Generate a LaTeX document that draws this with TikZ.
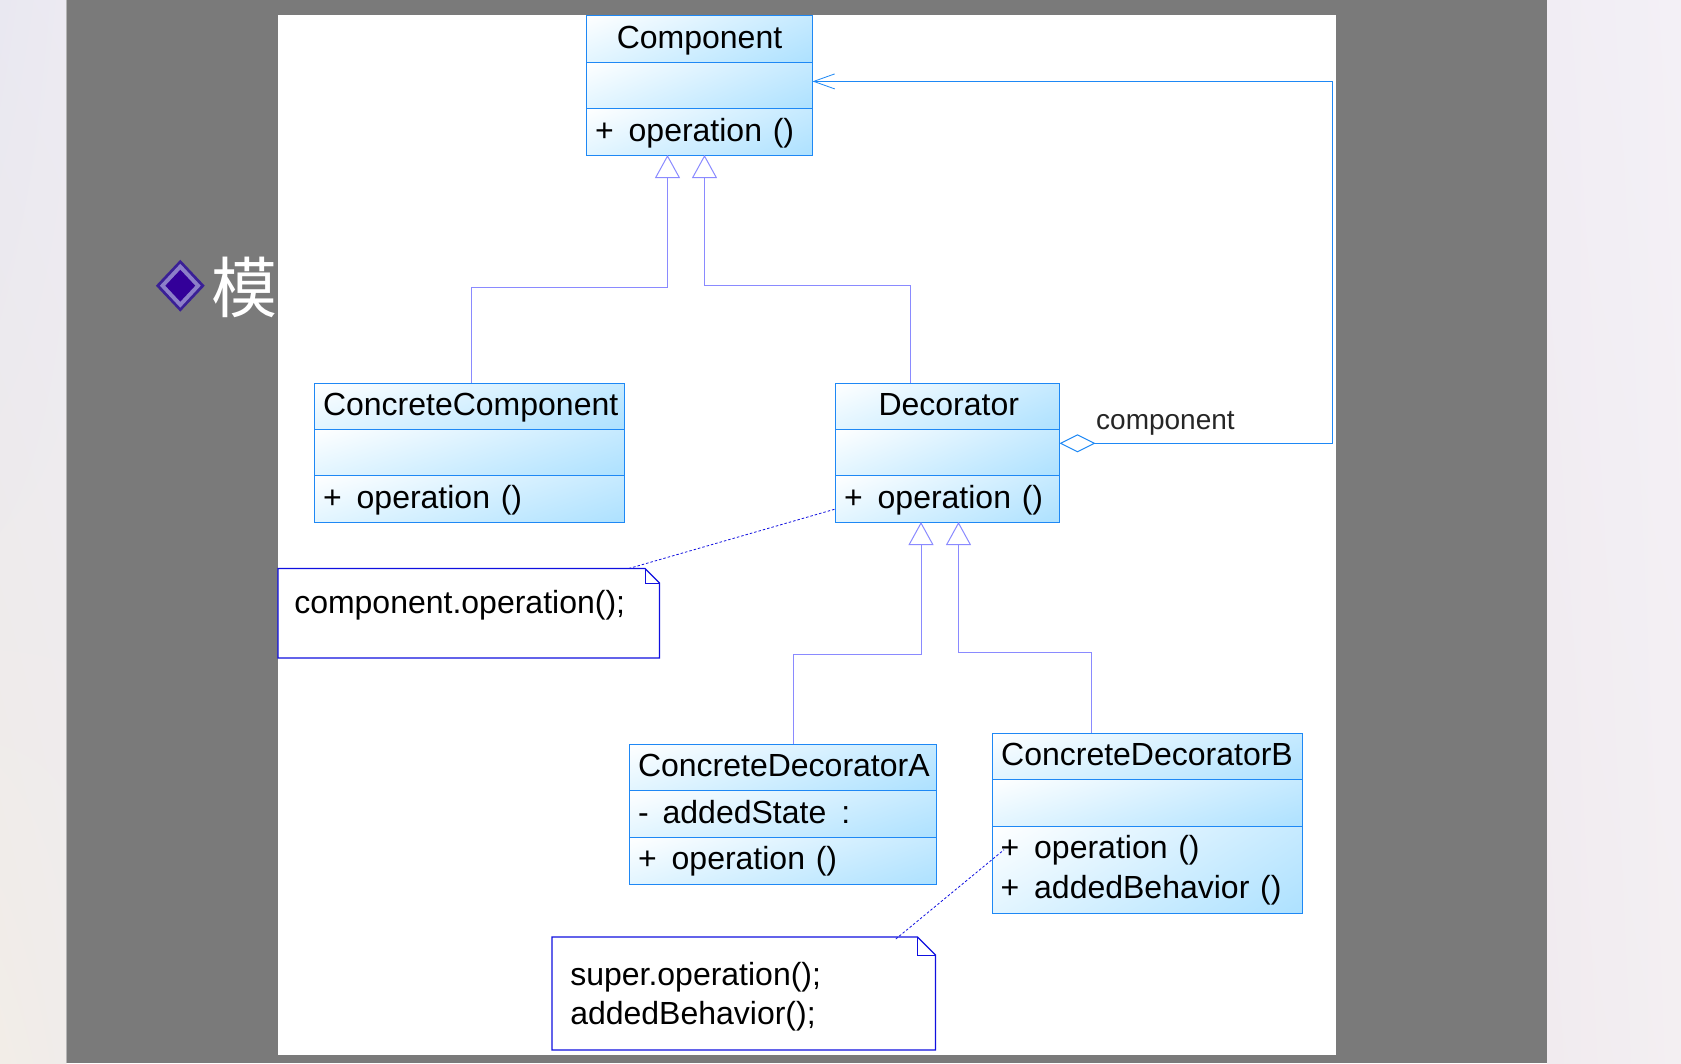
\documentclass[tikz,border=0pt]{standalone}
\usepackage{fontspec}
\setmainfont{Liberation Sans}
\newfontfamily\cjkfont{Noto Sans CJK SC}
\usetikzlibrary{arrows.meta,calc,shapes.geometric,shadings}
\definecolor{boxblue}{HTML}{1E88F5}
\definecolor{genblue}{HTML}{8A8AFF}
\definecolor{noteblue}{HTML}{1010E0}
\definecolor{shadeblue}{HTML}{ADE1FF}
\definecolor{shadeUR}{HTML}{C6EAFF}
\definecolor{shadeLL}{HTML}{E2F5FF}
\definecolor{slate}{HTML}{7A7A7A}
\definecolor{paleA}{HTML}{E9E8F1}
\definecolor{paleB}{HTML}{ECEAF2}
\definecolor{paleC}{HTML}{F2EDE7}
\definecolor{paleD}{HTML}{F0ECEA}
\definecolor{paleE}{HTML}{F1EDF4}
\definecolor{paleF}{HTML}{F3F0F6}
\definecolor{paleG}{HTML}{F1EBEF}
\definecolor{paleH}{HTML}{F3EFF2}
\definecolor{edgegray}{HTML}{B4B4B4}
\definecolor{bulletA}{HTML}{3A1F96}
\definecolor{bulletB}{HTML}{8C7FC8}
\definecolor{bulletC}{HTML}{330099}
\tikzset{
  x=1pt,y=-1pt,
  comp/.style 2 args={draw=boxblue,line width=1pt,inner xsep=8.5pt,inner ysep=0pt,outer sep=0pt,
    anchor=north west,minimum width=#1pt,minimum height=#2pt,text width=#1pt-17pt,
    font=\fontsize{32}{40}\selectfont,text=black,shade,shading=bilinear interpolation,
    upper left=white,upper right=shadeUR,lower left=shadeLL,lower right=shadeblue},
  fixline/.style={text height=26pt,text depth=8pt},
  ctitle/.style 2 args={comp={#1}{#2},fixline,align=center},
  cbody/.style 2 args={comp={#1}{#2},fixline,align=left},
  cmulti/.style 2 args={comp={#1}{#2},align=left},
  lowered/.style={text height=27pt,text depth=7pt},
  gen/.style={draw=genblue,line width=1pt,-{Triangle[open,length=23pt,width=25pt,fill=white]}},
  assoc/.style={draw=boxblue,line width=1pt,
    {Diamond[open,length=36pt,width=18pt,fill=white]}-{Straight Barb[length=21pt,width=15pt,line width=0.8pt]}},
  anchorline/.style={draw=noteblue,line width=0.8pt,dash pattern=on 2.5pt off 2pt},
  notebody/.style={inner sep=0pt,outer sep=0pt,anchor=north west,align=left,
    font=\fontsize{32}{39}\selectfont,text=black},
  noteline/.style={draw=noteblue,line width=1.2pt,line join=miter},
  foldline/.style={draw=noteblue,line width=1pt},
}
\newcommand{\plusgap}{+\hspace{15pt}}
\begin{document}
\begin{tikzpicture}
\useasboundingbox (0,0) rectangle (1681,1063);
% page backgrounds
\shade[shading=bilinear interpolation,upper left=paleA,upper right=paleB,lower left=paleC,lower right=paleD] (0,0) rectangle (66.5,1063);
\shade[shading=bilinear interpolation,upper left=paleE,upper right=paleF,lower left=paleG,lower right=paleH] (1547,0) rectangle (1681,1063);
\fill[slate] (66.5,0) rectangle (1547,1063);
\draw[edgegray,line width=1pt] (66.5,0) -- (66.5,1063);
% bullet and clipped heading
\node[diamond,fill=bulletA,draw=none,minimum width=49pt,minimum height=52pt,inner sep=0pt] (bulletouter) at (180.3,285.7) {};
\node[diamond,fill=bulletB,draw=none,minimum width=41pt,minimum height=44pt,inner sep=0pt] (bulletmid) at (180.3,285.7) {};
\node[diamond,fill=bulletC,draw=none,minimum width=30pt,minimum height=32pt,inner sep=0pt] (bulletinner) at (180.3,285.7) {};
\node[text=white,font=\cjkfont\fontsize{66}{66}\selectfont,inner sep=0pt,anchor=center] (heading) at (244.5,287) {模};
\fill[white] (278,15) rectangle (1336,1055);
% Component
\node[ctitle={226}{47},lowered] (compT) at (586.5,15) {Component};
\node[cbody={226}{46}] (compA) at (586.5,62) {};
\node[cbody={226}{47},lowered] (compO) at (586.5,108) {\plusgap operation ()};
% ConcreteComponent
\node[ctitle={310}{46}] (ccT) at (314.5,383) {ConcreteComponent};
\node[cbody={310}{46}] (ccA) at (314.5,429) {};
\node[cbody={310}{47},lowered] (ccO) at (314.5,475) {\plusgap operation ()};
% Decorator
\node[ctitle={224}{46}] (decT) at (835.5,383) {\hspace{2.5pt}Decorator};
\node[cbody={224}{46}] (decA) at (835.5,429) {};
\node[cbody={224}{47},lowered] (decO) at (835.5,475) {\plusgap operation ()};
% ConcreteDecoratorA
\node[ctitle={307}{46}] (daT) at (629.5,744) {ConcreteDecoratorA};
\node[cbody={307}{47},lowered] (daA) at (629.5,790) {-\hspace{14pt}addedState\hspace{15pt}:};
\node[cbody={307}{47.5}] (daO) at (629.5,837) {\plusgap operation ()};
% ConcreteDecoratorB
\node[ctitle={310}{46.5}] (dbT) at (992,733) {ConcreteDecoratorB};
\node[cbody={310}{47}] (dbA) at (992,779.5) {};
\node[cmulti={310}{86.5}] (dbO) at (992,826.5) {\plusgap operation ()\\\plusgap addedBehavior ()};
% inheritance
\draw[gen] ([xshift=1.5pt]ccT.north) -- ++(0,-96) -| ([xshift=-32pt]compO.south);
\draw[gen] ([xshift=-37pt]decT.north) -- ++(0,-97.5) -| ([xshift=5pt]compO.south);
\draw[gen] ([xshift=10pt]daT.north) -- ++(0,-90) -| ([xshift=-26.5pt]decO.south);
\draw[gen] ([xshift=-55.5pt]dbT.north) -- ++(0,-81) -| ([xshift=11pt]decO.south);
% aggregation
\draw[assoc] ([yshift=8.7pt]decA.east) -- ++(273,0) |- ([yshift=3.6pt]compA.east);
\node[anchor=base west,inner sep=0pt,font=\fontsize{28}{28}\selectfont,text=black!85] (rolelabel) at (1096,429.5) {component};
% notes
\node[notebody,minimum width=381.5pt,minimum height=89.5pt,text width=349pt,inner xsep=16pt,text height=23pt,text depth=23pt] (noteA) at (278,568.5) {component.operation();};
\node[notebody,minimum width=383.5pt,minimum height=113pt,text width=347pt,inner xsep=18pt] (noteB) at (552,937) {\rule{0pt}{29pt}super.operation();\\addedBehavior();};
\path[noteline] (noteA.north west) -- ([xshift=-14.5pt]noteA.north east) -- ([yshift=-14.5pt]noteA.north east) -- (noteA.south east) -- (noteA.south west) -- cycle;
\path[foldline] ([xshift=-14.5pt]noteA.north east) -- ([xshift=-14.5pt,yshift=-14.5pt]noteA.north east) -- ([yshift=-14.5pt]noteA.north east);
\path[noteline] (noteB.north west) -- ([xshift=-18pt]noteB.north east) -- ([yshift=-18pt]noteB.north east) -- (noteB.south east) -- (noteB.south west) -- cycle;
\path[foldline] ([xshift=-18pt]noteB.north east) -- ([xshift=-18pt,yshift=-18pt]noteB.north east) -- ([yshift=-18pt]noteB.north east);
% note anchors
\draw[anchorline] ([xshift=160pt]noteA.north) -- ([yshift=-10.5pt]decO.west);
\draw[anchorline] ([xshift=152pt,yshift=-2pt]noteB.north) -- ([xshift=12pt,yshift=20pt]dbO.west);
\end{tikzpicture}
\end{document}
